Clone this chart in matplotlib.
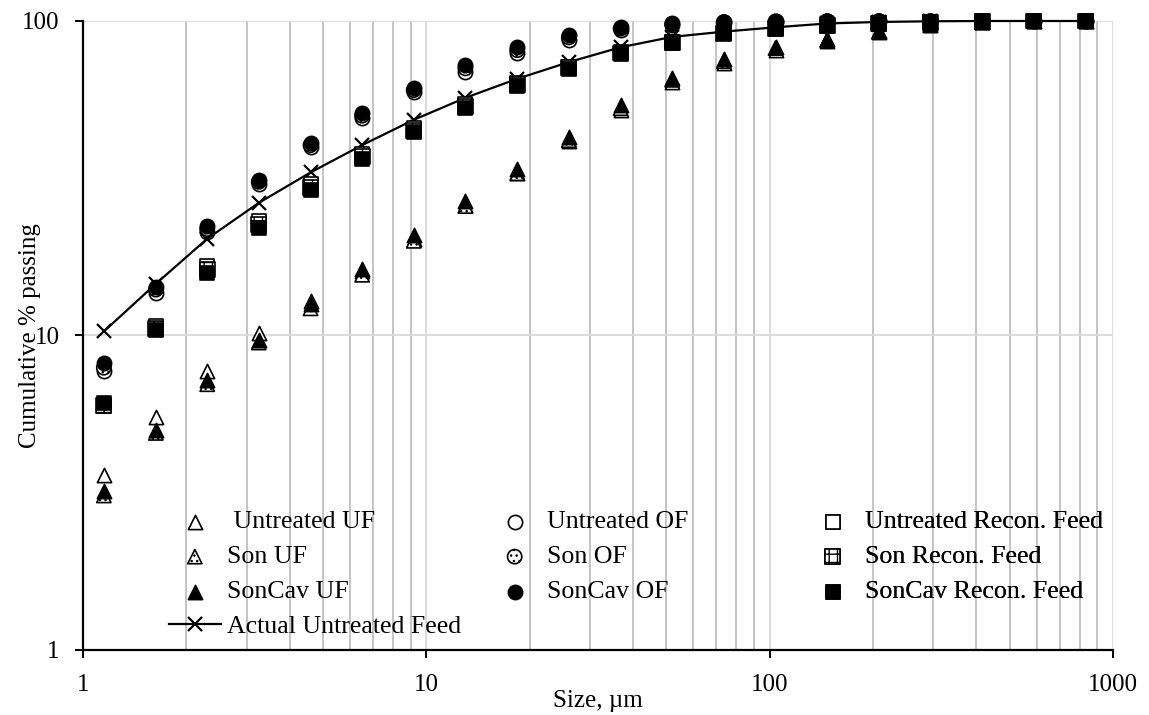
import matplotlib
matplotlib.use('Agg')
import matplotlib.pyplot as plt
from matplotlib.ticker import FixedLocator, FixedFormatter, LogLocator, NullFormatter

plt.rcParams['font.family'] = ['Liberation Serif', 'DejaVu Serif']
plt.rcParams['hatch.linewidth'] = 1.0

# particle size classes, um
size_um = [1.15, 1.63, 2.30, 3.25, 4.60, 6.50, 9.19, 13.0, 18.4, 26.0,
           36.8, 52.0, 73.5, 104, 147, 208, 294, 416, 588, 832]

# cumulative % passing
uf_untreated = [3.6, 5.5, 7.7, 10.2, 12.9, 16.0, 20.3, 26.0, 32.8, 41.5,
                52.0, 64.0, 73.5, 81.0, 86.5, 92.0, 96.8, 99.0, 100, 100]
uf_son = [3.1, 4.9, 7.0, 9.5, 12.2, 15.6, 20.0, 25.8, 32.8, 41.8,
          52.8, 65.0, 74.5, 82.0, 87.0, 92.5, 97.0, 99.2, 100, 100]
uf_soncav = [3.2, 5.0, 7.2, 9.7, 12.6, 16.3, 20.8, 26.8, 33.8, 42.8,
             54.0, 66.0, 75.5, 82.8, 87.8, 93.0, 97.5, 99.4, 100, 100]

of_untreated = [7.7, 13.7, 21.3, 30.3, 39.8, 49.2, 59.4, 69.0, 79.0, 87.0,
                93.6, 97.2, 99.0, 99.6, 99.9, 100, 100, 100, 100, 100]
of_son = [7.9, 14.0, 21.8, 30.8, 40.3, 50.0, 60.3, 70.7, 80.8, 88.7,
          94.6, 97.8, 99.2, 99.7, 99.9, 100, 100, 100, 100, 100]
of_soncav = [8.2, 14.3, 22.3, 31.3, 40.8, 50.9, 61.2, 72.4, 82.6, 90.3,
             95.7, 98.5, 99.4, 99.8, 100, 100, 100, 100, 100, 100]

feed_untreated = [5.95, 10.7, 16.6, 23.1, 30.3, 37.8, 45.7, 54.3, 63.5, 71.6,
                  79.6, 86.0, 91.8, 95.0, 97.0, 98.3, 99.3, 99.8, 100, 100]
feed_son = [6.0, 10.5, 16.2, 22.5, 29.6, 37.0, 45.0, 53.6, 62.9, 71.0,
            79.1, 85.6, 91.5, 94.8, 96.8, 98.2, 99.2, 99.8, 100, 100]
feed_soncav = [6.1, 10.4, 15.8, 22.0, 29.0, 36.4, 44.3, 53.0, 62.3, 70.5,
               78.6, 85.3, 91.3, 94.6, 96.6, 98.0, 99.1, 99.7, 100, 100]

actual_feed = [10.3, 14.6, 20.3, 26.4, 33.0, 40.3, 48.5, 57.0, 65.5, 74.0,
               82.5, 89.0, 92.5, 95.5, 98.2, 99.3, 99.8, 100, 100, 100]

fig = plt.figure(figsize=(11.49, 7.15), dpi=100)
ax = fig.add_axes([83/1149, 1 - 650/715, 1030/1149, 629/715])

ax.set_xscale('log')
ax.set_yscale('log')
ax.set_xlim(1, 1000)
ax.set_ylim(1, 100)

ax.xaxis.set_major_locator(FixedLocator([1, 10, 100, 1000]))
ax.xaxis.set_major_formatter(FixedFormatter(['1', '10', '100', '1000']))
ax.xaxis.set_minor_locator(LogLocator(base=10, subs=range(2, 10)))
ax.xaxis.set_minor_formatter(NullFormatter())
ax.yaxis.set_major_locator(FixedLocator([1, 10, 100]))
ax.yaxis.set_major_formatter(FixedFormatter(['1', '10', '100']))
ax.yaxis.set_minor_locator(FixedLocator([]))

ax.grid(which='major', color='#d9d9d9', lw=1.3, zorder=0)
ax.grid(which='minor', axis='x', color='#bfbfbf', lw=1.3, zorder=0)
ax.set_axisbelow(True)

for s in ['top', 'right']:
    ax.spines[s].set_visible(False)
for s in ['left', 'bottom']:
    ax.spines[s].set_linewidth(1.6)
ax.tick_params(which='major', direction='out', length=6, width=1.4,
               labelsize=18, pad=11)
ax.tick_params(which='minor', length=0)

ms_tri, ms_circ, ms_sq = 105, 105, 115
ew = 1.2

def pts(y, marker, s, face, hatch=None):
    return ax.scatter(size_um, y, s=s, marker=marker, facecolor=face,
                      edgecolor='black', linewidths=ew, hatch=hatch,
                      clip_on=False, zorder=3)

h_uf1 = pts(uf_untreated, '^', ms_tri, 'white')
h_uf2 = pts(uf_son, '^', ms_tri, 'white', '...')
h_uf3 = pts(uf_soncav, '^', ms_tri, 'black')
h_of1 = pts(of_untreated, 'o', ms_circ, 'white')
h_of2 = pts(of_son, 'o', ms_circ, 'white', '...')
h_of3 = pts(of_soncav, 'o', ms_circ, 'black')
h_act, = ax.plot(size_um, actual_feed, color='black', lw=1.6, marker='x',
                 ms=10, mew=1.6, clip_on=False, zorder=3)
h_fd1 = pts(feed_untreated, 's', ms_sq, 'white')
h_fd2 = pts(feed_son, 's', ms_sq, 'white', '++')
h_fd3 = pts(feed_soncav, 's', ms_sq, 'black')

ax.set_xlabel('Size, µm', fontsize=18, labelpad=-4)
ax.set_ylabel('Cumulative % passing', fontsize=18)
ax.yaxis.set_label_coords(-0.041, 0.5)

leg_kw = dict(loc='upper left', frameon=False, fontsize=18.6, borderpad=0,
              borderaxespad=0, handlelength=2.0, handletextpad=0.25,
              labelspacing=0.46, scatterpoints=1)
cols = [
    (0.0835, [h_uf1, h_uf2, h_uf3, h_act],
     [' Untreated UF', 'Son UF', 'SonCav UF', 'Actual Untreated Feed']),
    (0.394, [h_of1, h_of2, h_of3], ['Untreated OF', 'Son OF', 'SonCav OF']),
    (0.703, [h_fd1, h_fd2, h_fd3],
     ['Untreated Recon. Feed', 'Son Recon. Feed', 'SonCav Recon. Feed']),
]
for xpos, handles, labels in cols:
    leg = ax.legend(handles, labels, bbox_to_anchor=(xpos, 0.222), **leg_kw)
    ax.add_artist(leg)

fig.savefig('out.png', dpi=100)
